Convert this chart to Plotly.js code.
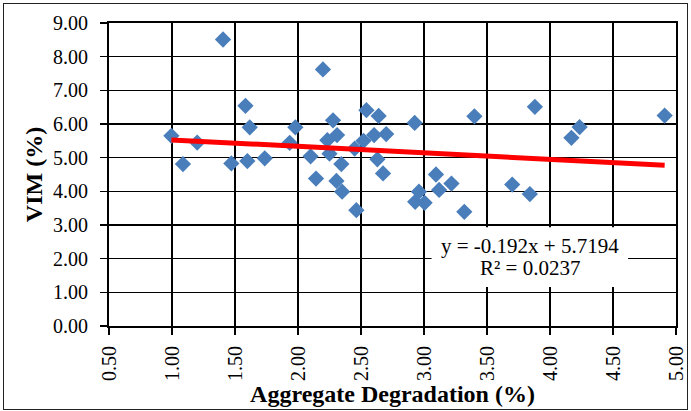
<!DOCTYPE html>
<html>
<head>
<meta charset="utf-8">
<script src="https://cdn.plot.ly/plotly-3.0.1.min.js"></script>
<style>
  html, body { margin: 0; padding: 0; background: #fff; }
  #wrap { position: relative; width: 691px; height: 411px; }
  #chart { width: 691px; height: 411px; }
  #frame { position: absolute; left: 3px; top: 3px; width: 685px; height: 407px;
           box-sizing: border-box; border: 1.5px solid #222; pointer-events: none; }
</style>
</head>
<body>
<div id="wrap">
  <div id="chart"></div>
  <div id="frame"></div>
</div>
<script>
// Aggregate degradation (%)
const degradation = [0.995, 1.087, 1.20, 1.405, 1.471, 1.583, 1.598, 1.617, 1.736, 1.934,
  1.979, 2.10, 2.143, 2.198, 2.233, 2.25, 2.278, 2.305, 2.31, 2.344,
  2.35, 2.45, 2.463, 2.52, 2.543, 2.604, 2.63, 2.64, 2.675, 2.70,
  2.926, 2.93, 2.96, 3.005, 3.095, 3.12, 3.218, 3.32, 3.40, 3.70,
  3.84, 3.88, 4.17, 4.235, 4.91];
// VIM (%)
const vim = [5.65, 4.81, 5.45, 8.51, 4.83, 6.54, 4.90, 5.90, 4.98, 5.44,
  5.90, 5.04, 4.38, 7.62, 5.52, 5.12, 6.11, 4.31, 5.67, 4.81,
  3.99, 5.27, 3.44, 5.50, 6.41, 5.67, 4.95, 6.24, 4.53, 5.70,
  6.03, 3.69, 3.99, 3.66, 4.50, 4.04, 4.23, 3.39, 6.23, 4.20,
  3.92, 6.51, 5.59, 5.91, 6.25];
// Linear trendline (as printed on the chart)
const slope = -0.192;
const intercept = 5.7194;
const rSquared = 0.0237;

const xMin = Math.min(...degradation);
const xMax = Math.max(...degradation);
const trendX = [xMin, xMax];
const trendY = trendX.map(x => slope * x + intercept);

const serif = 'Liberation Serif';

const data = [
  {
    x: degradation, y: vim, type: 'scatter', mode: 'markers',
    marker: { symbol: 'diamond', size: 12.5, color: '#4a7ebb', line: { width: 0 } },
    showlegend: false, hoverinfo: 'x+y'
  },
  {
    x: trendX, y: trendY, type: 'scatter', mode: 'lines',
    line: { color: '#ff0000', width: 5 },
    showlegend: false, hoverinfo: 'skip'
  }
];

const axisCommon = {
  showgrid: true, gridcolor: '#000', gridwidth: 1.6,
  showline: true, linecolor: '#000', linewidth: 2, mirror: true,
  ticks: 'outside', ticklen: 7, tickwidth: 1.6, tickcolor: '#000',
  zeroline: false, tickformat: '.2f',
  tickfont: { family: serif, size: 20, color: '#000' }
};

const labelFont = { family: serif, size: 21, color: '#000' };

const layout = {
  width: 691, height: 411,
  margin: { l: 109, r: 15, t: 23, b: 85 },
  paper_bgcolor: '#fff', plot_bgcolor: '#fff',
  font: { family: serif, color: '#000' },
  xaxis: Object.assign({}, axisCommon, {
    range: [0.5, 5.0], dtick: 0.5, tick0: 0.5, tickangle: -90,
    ticklabelstandoff: 3,
    title: { text: '<b>Aggregate Degradation (%)</b>', font: { family: serif, size: 24, color: '#000' }, standoff: 4 }
  }),
  yaxis: Object.assign({}, axisCommon, {
    range: [0, 9], dtick: 1, tick0: 0,
    ticklabelstandoff: 8,
    title: { text: '<b>VIM (%)</b>', font: { family: serif, size: 24, color: '#000' }, standoff: 4 }
  }),
  shapes: [{
    type: 'rect', xref: 'x', yref: 'y', layer: 'above',
    x0: 3.06, x1: 4.62, y0: 1.16, y1: 2.93,
    fillcolor: '#fff', line: { width: 0 }
  }],
  annotations: [
    {
      x: 3.84, y: 2.37, xref: 'x', yref: 'y',
      text: 'y = ' + slope + 'x + ' + intercept,
      showarrow: false, align: 'center', font: labelFont
    },
    {
      x: 3.84, y: 1.71, xref: 'x', yref: 'y',
      text: 'R² = ' + rSquared,
      showarrow: false, align: 'center', font: labelFont
    }
  ]
};

Plotly.newPlot('chart', data, layout, { displayModeBar: false, staticPlot: true });
</script>
</body>
</html>
